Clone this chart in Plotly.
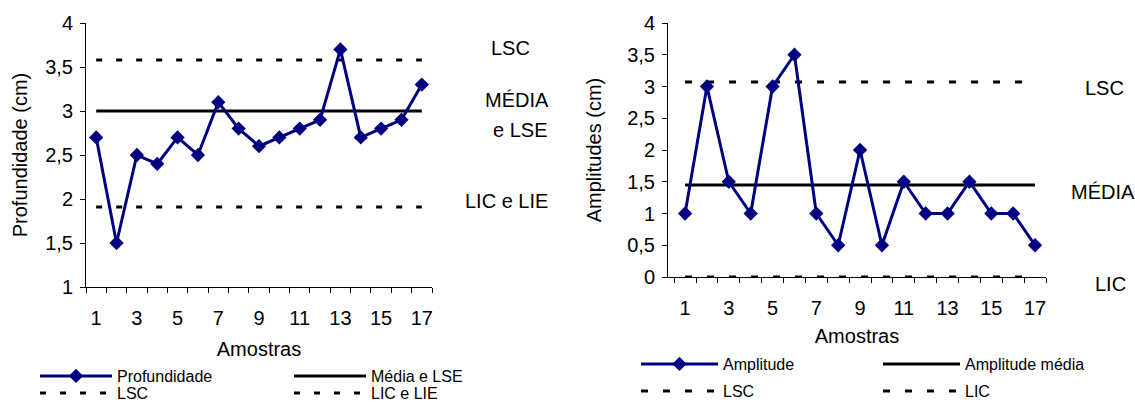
import plotly.graph_objects as go

# ---- data ----
amostras = list(range(1, 18))
profundidade = [2.7, 1.5, 2.5, 2.4, 2.7, 2.5, 3.1, 2.8, 2.6, 2.7, 2.8, 2.9, 3.7, 2.7, 2.8, 2.9, 3.3]
prof_media_lse = 3.0
prof_lsc = 3.58
prof_lic_lie = 1.91

amplitude = [1, 3, 1.5, 1, 3, 3.5, 1, 0.5, 2, 0.5, 1.5, 1, 1, 1.5, 1, 1, 0.5]
ampl_media = 1.45
ampl_lsc = 3.07
ampl_lic = 0.0

x_ticklabels = [1, 3, 5, 7, 9, 11, 13, 15, 17]
y_ticks_left = [1, 1.5, 2, 2.5, 3, 3.5, 4]
y_ticks_right = [0, 0.5, 1, 1.5, 2, 2.5, 3, 3.5, 4]

W, H = 1135, 402
FONT = "Liberation Sans, Arial, sans-serif"
NAVY = "#000080"

def px_x(p):
    return p / W

def px_y(p):
    return 1 - p / H

xs_end = [amostras[0], amostras[-1]]
boundaries = [a - 0.5 for a in amostras] + [amostras[-1] + 0.5]

fig = go.Figure()

# ---- left chart ----
fig.add_trace(go.Scatter(x=xs_end, y=[prof_lsc] * 2, mode="lines", name="LSC",
                         line=dict(color="black", width=3, dash="6px,14px"),
                         xaxis="x", yaxis="y", legend="legend2", legendrank=1, cliponaxis=False))
fig.add_trace(go.Scatter(x=xs_end, y=[prof_lic_lie] * 2, mode="lines", name="LIC e LIE",
                         line=dict(color="black", width=3, dash="6px,14px"),
                         xaxis="x", yaxis="y", legend="legend2", legendrank=2, cliponaxis=False))
fig.add_trace(go.Scatter(x=xs_end, y=[prof_media_lse] * 2, mode="lines", name="Média e LSE",
                         line=dict(color="black", width=3),
                         xaxis="x", yaxis="y", legend="legend", legendrank=2, cliponaxis=False))
fig.add_trace(go.Scatter(x=amostras, y=profundidade, mode="lines+markers", name="Profundidade",
                         line=dict(color=NAVY, width=3),
                         marker=dict(symbol="diamond", size=11, color=NAVY),
                         xaxis="x", yaxis="y", legend="legend", legendrank=1, cliponaxis=False))

# ---- right chart ----
fig.add_trace(go.Scatter(x=xs_end, y=[ampl_lsc] * 2, mode="lines", name="LSC",
                         line=dict(color="black", width=3, dash="7px,15px"),
                         xaxis="x2", yaxis="y2", legend="legend4", legendrank=1, cliponaxis=False))
fig.add_trace(go.Scatter(x=xs_end, y=[ampl_lic] * 2, mode="lines", name="LIC",
                         line=dict(color="black", width=3, dash="7px,15px"),
                         xaxis="x2", yaxis="y2", legend="legend4", legendrank=2, cliponaxis=False))
fig.add_trace(go.Scatter(x=xs_end, y=[ampl_media] * 2, mode="lines", name="Amplitude média",
                         line=dict(color="black", width=3),
                         xaxis="x2", yaxis="y2", legend="legend3", legendrank=2, cliponaxis=False))
fig.add_trace(go.Scatter(x=amostras, y=amplitude, mode="lines+markers", name="Amplitude",
                         line=dict(color=NAVY, width=3),
                         marker=dict(symbol="diamond", size=11, color=NAVY),
                         xaxis="x2", yaxis="y2", legend="legend3", legendrank=1, cliponaxis=False))

axis_font = dict(family=FONT, size=20, color="black")

def xaxis(domain, rng, anchor, standoff_title):
    return dict(domain=domain, range=rng, anchor=anchor, showgrid=False, zeroline=False,
                showline=True, linecolor="black", linewidth=1, layer="below traces",
                tickmode="array", tickvals=x_ticklabels, ticktext=[str(v) for v in x_ticklabels],
                ticks="outside", ticklen=0, tickfont=axis_font, ticklabelstandoff=13,
                minor=dict(tickmode="array", tickvals=boundaries, ticks="outside",
                           ticklen=5, tickcolor="black", showgrid=False),
                title=dict(text="Amostras", font=axis_font, standoff=standoff_title),
                fixedrange=True)

def yaxis(domain, rng, ticks, title, anchor, standoff_title):
    return dict(domain=domain, range=rng, anchor=anchor, showgrid=False, zeroline=False,
                showline=True, linecolor="black", linewidth=1, layer="below traces",
                tickmode="array", tickvals=ticks,
                ticks="outside", ticklen=5, tickcolor="black", tickfont=axis_font,
                ticklabelstandoff=3,
                title=dict(text=title, font=axis_font, standoff=standoff_title),
                fixedrange=True)

left_x = [px_x(86), px_x(432)]
left_y = [px_y(287), px_y(23)]
right_x = [px_x(668), px_x(1046)]
right_y = [px_y(277), px_y(23)]

leg_font = dict(family=FONT, size=16, color="black")

def legend(x, y, itemwidth, entrywidth):
    return dict(orientation="h", x=x, y=y, xanchor="left", yanchor="middle",
                xref="paper", yref="paper", font=leg_font, itemwidth=itemwidth,
                entrywidth=entrywidth, entrywidthmode="pixels",
                bgcolor="rgba(0,0,0,0)", borderwidth=0, traceorder="normal",
                tracegroupgap=0)

annotations = []
def label(text, cx, cy):
    annotations.append(dict(text=text, x=px_x(cx), y=px_y(cy), xref="paper", yref="paper",
                            showarrow=False, xanchor="center", yanchor="middle",
                            font=dict(family=FONT, size=20, color="black")))

label("LSC", 510, 48)
label("MÉDIA", 517, 100)
label("e LSE", 520, 130)
label("LIC e LIE", 506, 201)
label("LSC", 1104, 88)
label("MÉDIA", 1103, 192)
label("LIC", 1110, 284)

fig.update_layout(
    width=W, height=H,
    margin=dict(l=0, r=0, t=0, b=0, autoexpand=False),
    paper_bgcolor="white", plot_bgcolor="white",
    separators=",.",
    showlegend=True,
    font=dict(family=FONT, color="black"),
    xaxis=xaxis(left_x, [0.5, 17.5], "y", 13),
    yaxis=yaxis(left_y, [1, 4], y_ticks_left, "Profundidade (cm)", "x", 12),
    xaxis2=xaxis(right_x, [0.22, 17.5], "y2", 10),
    yaxis2=yaxis(right_y, [0, 4], y_ticks_right, "Amplitudes (cm)", "x2", 20),
    legend=legend(px_x(35), px_y(376), 72, 167),
    legend2=legend(px_x(35), px_y(393), 72, 167),
    legend3=legend(px_x(636), px_y(364), 77, 150),
    legend4=legend(px_x(636), px_y(391), 77, 150),
    annotations=annotations,
)

fig.write_html("out.html")
